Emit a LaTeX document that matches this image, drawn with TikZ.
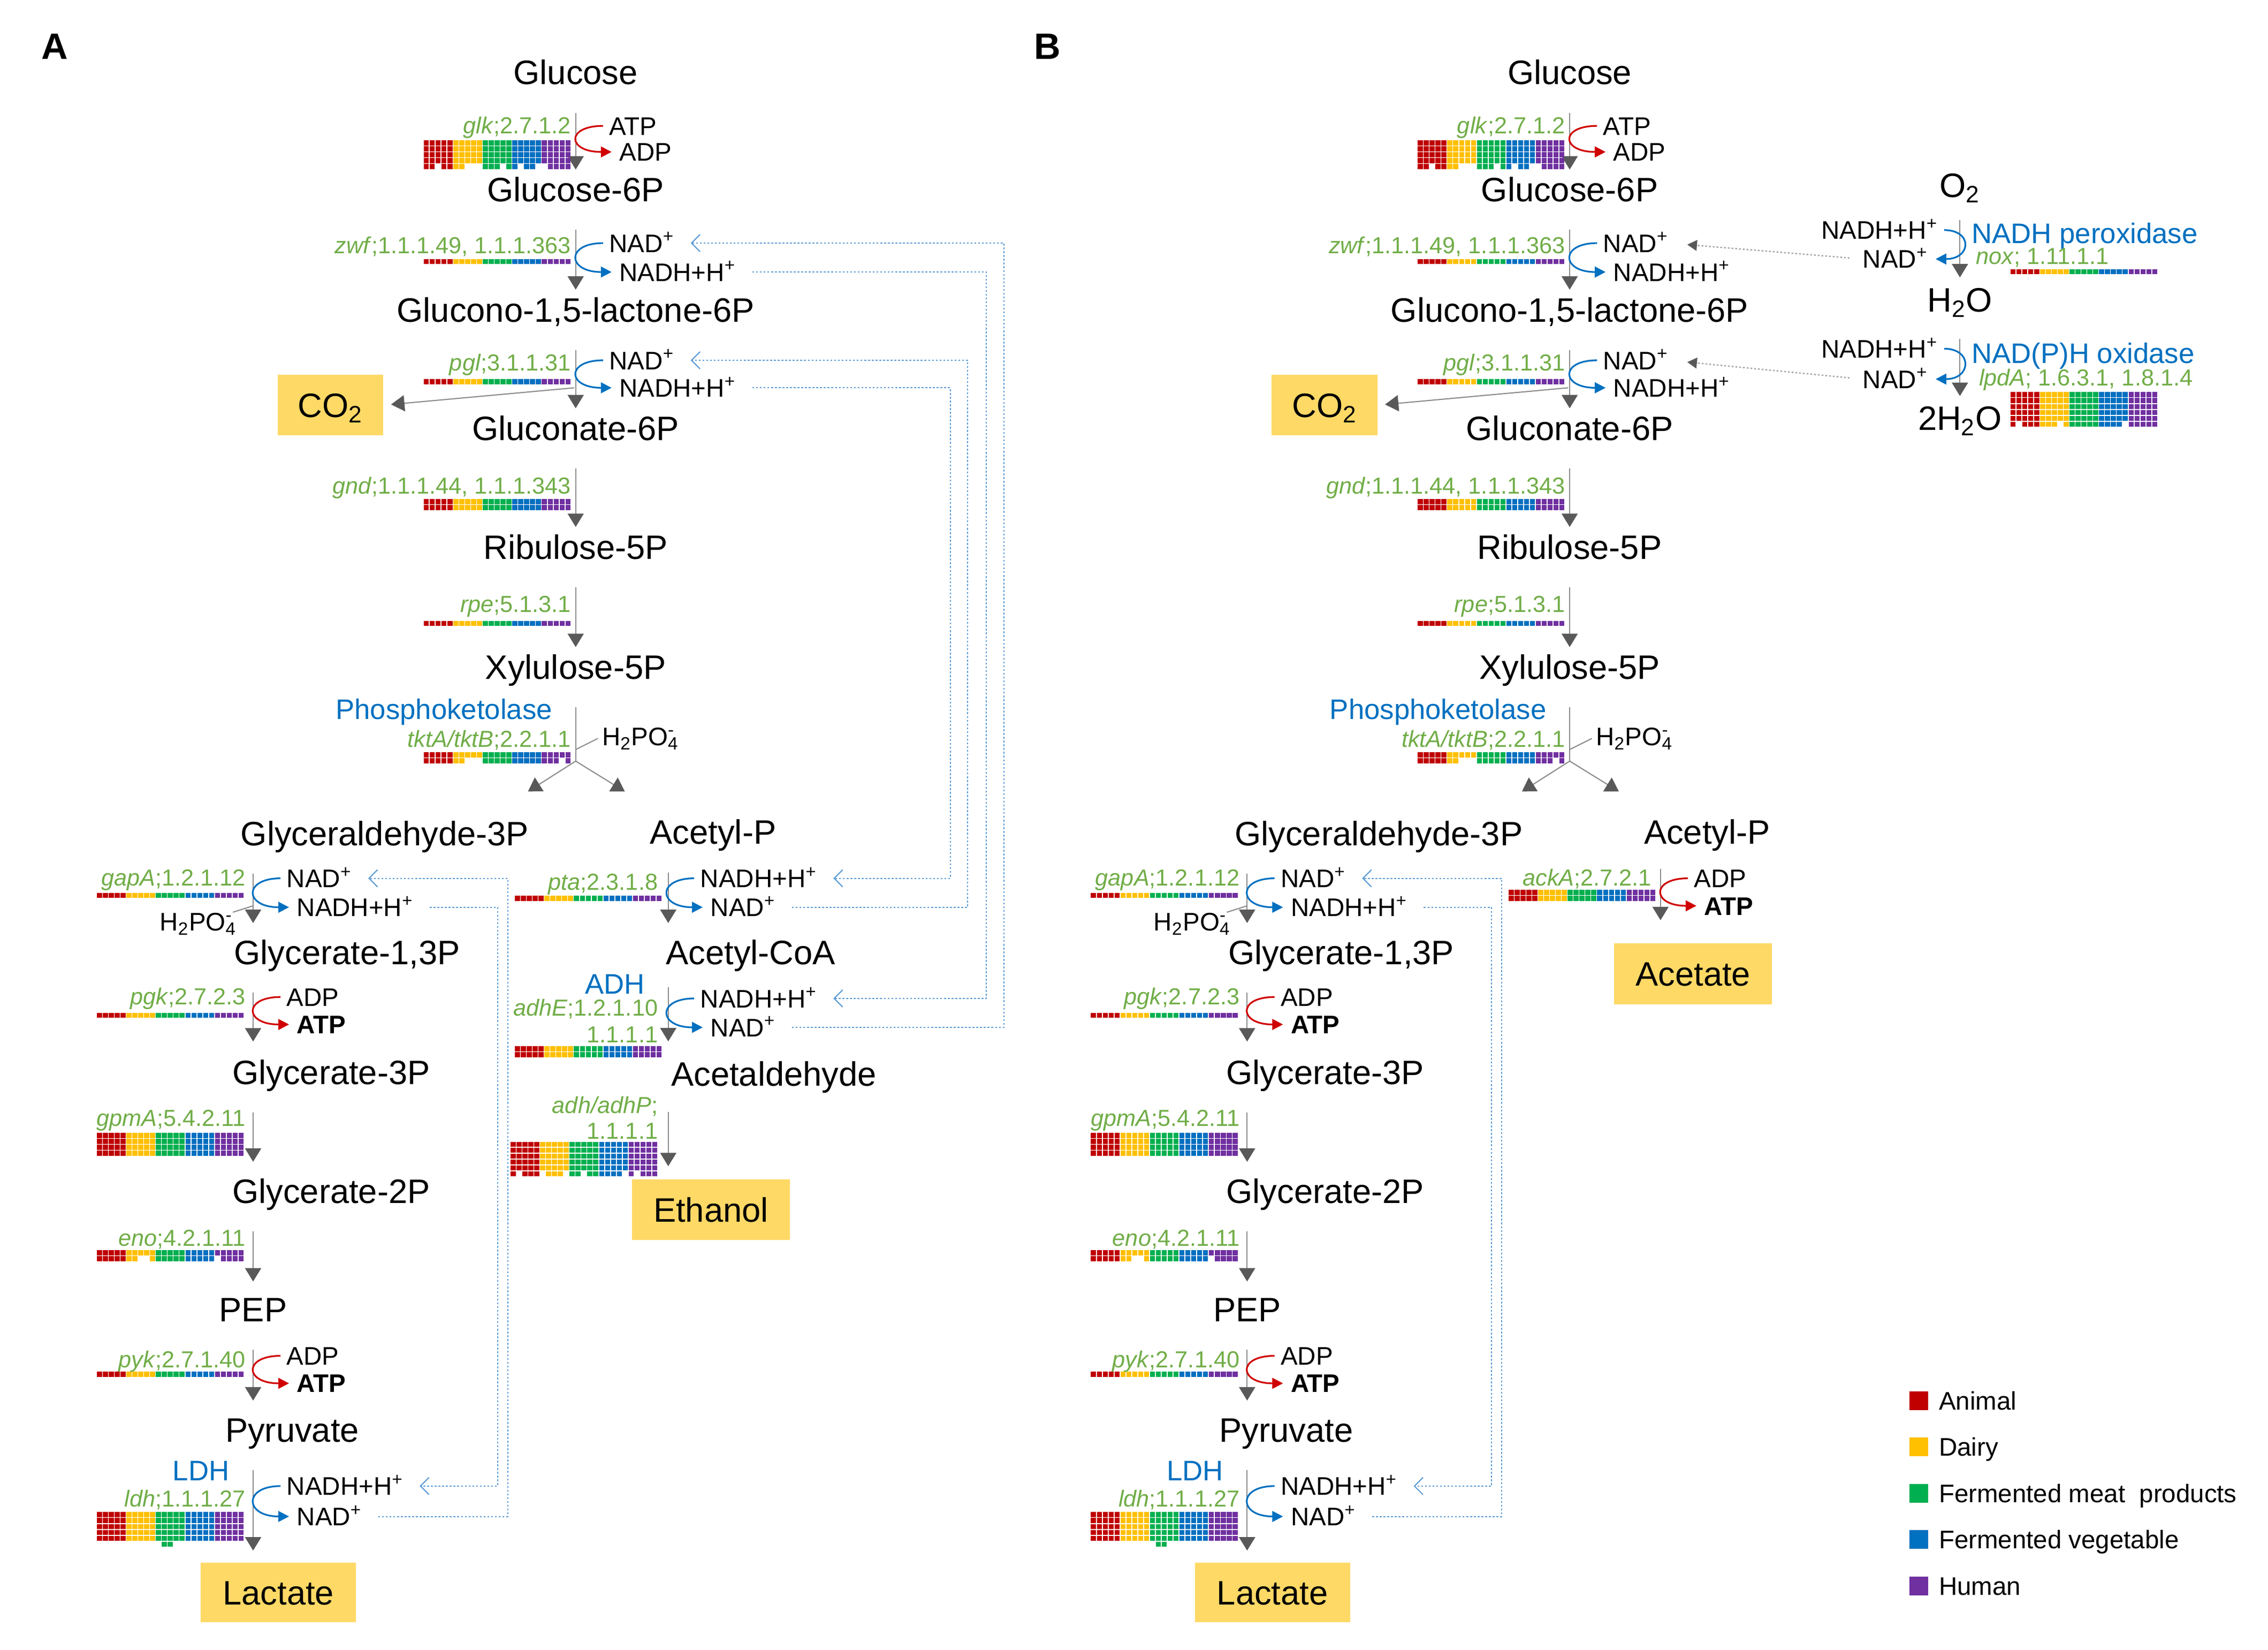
\documentclass[tikz,border=0pt]{standalone}
\usepackage{fontspec}
\setmainfont{Liberation Sans}
\usepackage{tikz}
\usetikzlibrary{arrows.meta,positioning}
\definecolor{hm0}{HTML}{C00000}
\definecolor{hm1}{HTML}{FFC000}
\definecolor{hm2}{HTML}{00B050}
\definecolor{hm3}{HTML}{0070C0}
\definecolor{hm4}{HTML}{7030A0}
\definecolor{genegreen}{HTML}{70AD47}
\definecolor{enzblue}{HTML}{0070C0}
\definecolor{boxfill}{HTML}{FFD966}
\definecolor{rxngray}{HTML}{8C8C8C}
\definecolor{tipgray}{HTML}{595959}
\definecolor{cofred}{HTML}{D00000}
\definecolor{cofblue}{HTML}{0070C0}
\definecolor{dotblue}{HTML}{5B9BD5}

% heat strip: left x, top y, rows per column (25 columns)
\newcommand{\heat}[3]{%
  \foreach \h [count=\c from 0] in {#3} {%
    \pgfmathtruncatemacro{\g}{\c/5}%
    \foreach \r in {1,...,\h}
      \fill[fill=hm\g] ({#1+\c*4.08},{#2+(\r-1)*4.08}) rectangle ++(3.5,3.5);
  }}
% heat strip with the same number of rows in every column
\newcommand{\heatbar}[3]{%
  \foreach \c in {0,...,24} {%
    \pgfmathtruncatemacro{\g}{\c/5}%
    \foreach \r in {1,...,#3}
      \fill[fill=hm\g] ({#1+\c*4.08},{#2+(\r-1)*4.08}) rectangle ++(3.5,3.5);
  }}

% shared part of both panels
\newcommand{\pathway}[1]{%
  \node[met] (glc#1) at (398,50) {Glucose};
  \node[met] (g6p#1) at (398,131) {Glucose-6P};
  \node[met] (glp#1) at (398,214) {Glucono-1,5-lactone-6P};
  \node[met] (gnt#1) at (398,296) {Gluconate-6P};
  \node[met] (ru5#1) at (398,378) {Ribulose-5P};
  \node[met] (xu5#1) at (398,461) {Xylulose-5P};
  \node[met] (gap#1) at (266,576) {Glyceraldehyde-3P};
  \node[met] (acp#1) at (493,575) {Acetyl-P};
  \node[met] (bpg#1) at (240,658) {Glycerate-1,3P};
  \node[met] (pgc#1) at (229,741) {Glycerate-3P};
  \node[met] (pgb#1) at (229,823) {Glycerate-2P};
  \node[met] (pep#1) at (175,905) {PEP};
  \node[met] (pyr#1) at (202,988) {Pyruvate};
  \node[prod, minimum width=2.9cm, minimum height=1.11cm] (lac#1) at (192.5,1100.5) {Lactate};
  \node[prod, minimum width=1.97cm, minimum height=1.13cm] (co2#1) at (228.5,280) {CO\textsubscript{2}};
  \coordinate (axL#1) at (175,0);
  % glucose to xylulose-5P
  \draw[rxn] (glc#1) -- (g6p#1);
  \node[gene] (glk#1) at (395,86.5) {\textit{glk};2.7.1.2};
  \heat{293}{97}{5,5,4,5,5,5,5,4,4,4,5,5,5,4,5,5,4,5,5,4,4,5,5,5,5}
  \node[cof] (glki#1) at (421,87) {ATP};
  \node[cof] (glko#1) at (428,105) {ADP};
  \draw[cofr] (glki#1.west) .. controls +(-30,0) and +(-36,0) .. (glko#1.west);
  \draw[rxn] (g6p#1) -- (glp#1);
  \node[gene] (zwf#1) at (395,169.5) {\textit{zwf};1.1.1.49, 1.1.1.363};
  \heatbar{293}{179}{1}
  \node[cof] (zwfo#1) at (421,168) {NAD\textsuperscript{+}};
  \node[cof] (zwfr#1) at (428,188) {NADH+H\textsuperscript{+}};
  \draw[cofb] (zwfo#1.west) .. controls +(-30,0) and +(-36,0) .. (zwfr#1.west);
  \draw[rxn] (glp#1) -- (gnt#1);
  \node[gene] (pgl#1) at (395,250.5) {\textit{pgl};3.1.1.31};
  \heatbar{293}{262}{1}
  \node[cof] (pglo#1) at (421,249) {NAD\textsuperscript{+}};
  \node[cof] (pglr#1) at (428,268) {NADH+H\textsuperscript{+}};
  \draw[cofb] (pglo#1.west) .. controls +(-30,0) and +(-36,0) .. (pglr#1.west);
  \coordinate (co2s#1) at (397,268);
  \draw[rxn, shorten <=0pt] (co2s#1) -- (co2#1.east);
  \draw[rxn] (gnt#1) -- (ru5#1);
  \node[gene] (gnd#1) at (395,335.5) {\textit{gnd};1.1.1.44, 1.1.1.343};
  \heatbar{293}{345}{2}
  \draw[rxn] (ru5#1) -- (xu5#1);
  \node[gene] (rpe#1) at (395,417.5) {\textit{rpe};5.1.3.1};
  \heatbar{293}{429}{1}
  % phosphoketolase split
  \node[enz] (pkt#1) at (307,490) {Phosphoketolase};
  \node[gene] (tkt#1) at (395,510.5) {\textit{tktA/tktB};2.2.1.1};
  \heat{293}{520}{2,2,2,2,2,2,2,1,1,1,2,2,2,2,2,2,2,2,2,2,2,2,2,1,2}
  \coordinate (pk#1) at (398,526);
  \coordinate (pkp#1) at (398,518);
  \coordinate (pkl#1) at (365,547);
  \coordinate (pkr#1) at (432,547);
  \node[cof] (pia#1) at (416,509) {H\textsubscript{2}PO\rlap{\textsubscript{4}}\textsuperscript{-}};
  \draw[rxnline] (xu5#1) -- (pk#1);
  \draw[thinline, shorten >=0.8mm] (pkp#1) -- (pia#1.west);
  \draw[rxn, shorten <=0pt, shorten >=0pt] (pk#1) -- (pkl#1);
  \draw[rxn, shorten <=0pt, shorten >=0pt] (pk#1) -- (pkr#1);
  % glycolysis down to lactate
  \draw[rxn, shorten >=3.1mm] (gap#1.south -| axL#1) -- (bpg#1.north -| axL#1);
  \node[gene] (gapg#1) at (170,606.5) {\textit{gapA};1.2.1.12};
  \heatbar{67}{617}{1}
  \node[cof] (gapo#1) at (198,607) {NAD\textsuperscript{+}};
  \node[cof] (gapr#1) at (205,627) {NADH+H\textsuperscript{+}};
  \draw[cofb] (gapo#1.west) .. controls +(-30,0) and +(-36,0) .. (gapr#1.west);
  \node[cof, anchor=east] (pib#1) at (161,637) {H\textsubscript{2}PO\rlap{\textsubscript{4}}\textsuperscript{-}};
  \coordinate (gpp#1) at (175,626);
  \draw[thinline] (gpp#1) -- (pib#1.north east);
  \draw[rxn, shorten >=3.4mm] (bpg#1.south -| axL#1) -- (pgc#1.north -| axL#1);
  \node[gene] (pgk#1) at (170,688.5) {\textit{pgk};2.7.2.3};
  \heatbar{67}{700}{1}
  \node[cof] (pgki#1) at (198,689) {ADP};
  \node[cof] (pgko#1) at (205,708) {\textbf{ATP}};
  \draw[cofr] (pgki#1.west) .. controls +(-30,0) and +(-36,0) .. (pgko#1.west);
  \draw[rxn, shorten >=3.1mm] (pgc#1.south -| axL#1) -- (pgb#1.north -| axL#1);
  \node[gene] (gpm#1) at (170,772.5) {\textit{gpmA};5.4.2.11};
  \heatbar{67}{783}{4}
  \draw[rxn, shorten >=2.9mm] (pgb#1.south -| axL#1) -- (pep#1.north -| axL#1);
  \node[gene] (eno#1) at (170,855.5) {\textit{eno};4.2.1.11};
  \heat{67}{864}{2,2,2,2,2,2,2,1,1,2,2,2,2,2,2,2,2,2,2,2,1,2,2,2,2}
  \draw[rxn, shorten >=3.1mm] (pep#1.south -| axL#1) -- (pyr#1.north -| axL#1);
  \node[gene] (pyk#1) at (170,939.5) {\textit{pyk};2.7.1.40};
  \heatbar{67}{948}{1}
  \node[cof] (pyki#1) at (198,937) {ADP};
  \node[cof] (pyko#1) at (205,956) {\textbf{ATP}};
  \draw[cofr] (pyki#1.west) .. controls +(-30,0) and +(-36,0) .. (pyko#1.west);
  \draw[rxn, shorten >=2.2mm] (pyr#1.south -| axL#1) -- (lac#1.north -| axL#1);
  \node[enz] (ldhe#1) at (139,1016) {LDH};
  \node[gene] (ldh#1) at (170,1035.5) {\textit{ldh};1.1.1.27};
  \heat{67}{1045}{5,5,5,5,5,5,5,5,5,5,5,6,6,5,5,5,5,5,5,5,5,5,5,5,5}
  \node[cof] (ldhr#1) at (198,1027) {NADH+H\textsuperscript{+}};
  \node[cof] (ldho#1) at (205,1048) {NAD\textsuperscript{+}};
  \draw[cofb] (ldhr#1.west) .. controls +(-30,0) and +(-36,0) .. (ldho#1.west);
  % NAD recycling between gapA and ldh
  \coordinate (ro1#1) at (351,0);
  \coordinate (ro2#1) at (344,0);
  \draw[recyc] (ldho#1.east) -- (ldho#1.east -| ro1#1) -- (gapo#1.east -| ro1#1) -- (gapo#1.east);
  \draw[recyc] (gapr#1.east) -- (gapr#1.east -| ro2#1) -- (ldhr#1.east -| ro2#1) -- (ldhr#1.east);
}

\begin{document}
\begin{tikzpicture}[x=0.02703cm, y=-0.02703cm,
    met/.style={font=\fontsize{18}{21}\selectfont, inner sep=0pt, text height=12.9pt, text depth=0pt},
    prod/.style={met, fill=boxfill},
    cof/.style={font=\fontsize{13.5}{16}\selectfont, inner sep=0pt, text height=9.7pt, text depth=0pt, anchor=west},
    gene/.style={font=\fontsize{12.3}{14}\selectfont, text=genegreen, inner sep=0pt, text height=8.8pt, text depth=0pt, anchor=east},
    enz/.style={font=\fontsize{15}{17}\selectfont, text=enzblue, inner sep=0pt, text height=10.8pt, text depth=0pt},
    rxn/.style={draw=rxngray, line width=0.6pt, -{Triangle[length=2.5mm,width=3mm,color=tipgray]}, shorten <=5.2mm, shorten >=1.4mm},
    rxnline/.style={draw=rxngray, line width=0.6pt, shorten <=5.2mm},
    thinline/.style={draw=rxngray, line width=0.6pt},
    cofr/.style={draw=cofred, line width=0.9pt, -{Triangle[length=2mm,width=2mm]}, shorten <=1.1mm, shorten >=1.4mm},
    cofb/.style={cofr, draw=cofblue},
    recyc/.style={draw=dotblue, line width=0.6pt, dash pattern=on 1pt off 1pt, -{Straight Barb[length=1.6mm,width=3.2mm]}, shorten <=3mm, shorten >=3mm},
    recycg/.style={draw=gray!70, line width=0.7pt, dash pattern=on 1pt off 1pt, -{Triangle[length=1.8mm,width=2mm,color=tipgray]}, shorten <=2.4mm, shorten >=3.5mm},
    legsq/.style={minimum size=3.5mm, inner sep=0pt},
    panel/.style={font=\fontsize{19.5}{22}\selectfont\bfseries, inner sep=0pt}]

    \useasboundingbox (0,0) rectangle (1568,1140);

    % ---------- panel A ----------
    \node[panel] (pa) at (38,32) {A};
    \pathway{A}

    \coordinate (axR) at (462,0);
    \node[met] (acoa) at (519,658) {Acetyl-CoA};
    \node[met] (acal) at (535,742) {Acetaldehyde};
    \node[prod, minimum width=2.95cm, minimum height=1.13cm] (etoh) at (491.5,836) {Ethanol};

    \draw[rxn, shorten >=3.1mm] (acpA.south -| axR) -- (acoa.north -| axR);
    \node[gene] (pta) at (455,609.5) {\textit{pta};2.3.1.8};
    \heatbar{356}{619}{1}
    \node[cof] (ptar) at (484,607) {NADH+H\textsuperscript{+}};
    \node[cof] (ptao) at (491,627) {NAD\textsuperscript{+}};
    \draw[cofb] (ptar.west) .. controls +(-30,0) and +(-36,0) .. (ptao.west);

    \draw[rxn, shorten <=4.2mm, shorten >=3.7mm] (acoa.south -| axR) -- (acal.north -| axR);
    \node[enz] (adhe) at (425,680) {ADH};
    \node[gene] (adhg) at (455,696.5) {\textit{adhE};1.2.1.10};
    \node[gene] (adhh) at (455,715) {1.1.1.1};
    \heatbar{356}{723}{2}
    \node[cof] (adhr) at (484,690) {NADH+H\textsuperscript{+}};
    \node[cof] (adho) at (491,710) {NAD\textsuperscript{+}};
    \draw[cofb] (adhr.west) .. controls +(-30,0) and +(-36,0) .. (adho.west);

    \draw[rxn, shorten <=4.8mm, shorten >=2.4mm] (acal.south -| axR) -- (etoh.north -| axR);
    \node[gene] (adpg) at (455,763.5) {\textit{adh/adhP};};
    \node[gene] (adph) at (455,781.5) {1.1.1.1};
    \heat{353}{789}{6,5,6,6,6,5,6,6,6,5,6,6,5,6,6,6,6,6,6,5,6,5,6,6,6}

    % NAD recycling on the right of panel A
    \coordinate (ra1) at (694,0);
    \coordinate (ra2) at (682,0);
    \coordinate (ra3) at (669,0);
    \coordinate (ra4) at (657,0);
    \draw[recyc] (adho.east) -- (adho.east -| ra1) -- (zwfoA.east -| ra1) -- (zwfoA.east);
    \draw[recyc] (zwfrA.east) -- (zwfrA.east -| ra2) -- (adhr.east -| ra2) -- (adhr.east);
    \draw[recyc] (ptao.east) -- (ptao.east -| ra3) -- (pgloA.east -| ra3) -- (pgloA.east);
    \draw[recyc] (pglrA.east) -- (pglrA.east -| ra4) -- (ptar.east -| ra4) -- (ptar.east);

    % ---------- panel B ----------
    \node[panel] (pb) at (724,32) {B};
    \begin{scope}[xshift=18.57cm]
        \pathway{B}
    \end{scope}

    \coordinate (axB) at (1148,0);
    \node[prod, minimum width=2.95cm, minimum height=1.13cm] (acet) at (1170.5,673) {Acetate};
    \draw[rxn, shorten <=4.5mm, shorten >=4.3mm] (acpB.south -| axB) -- (acet.north -| axB);
    \node[gene] (ack) at (1142,606.5) {\textit{ackA};2.7.2.1};
    \heatbar{1043}{615}{2}
    \node[cof] (acki) at (1171,607) {ADP};
    \node[cof] (acko) at (1178,626) {\textbf{ATP}};
    \draw[cofr] (acki.west) .. controls +(-30,0) and +(-36,0) .. (acko.west);

    % oxygen side
    \node[met] (oxy) at (1355,128) {O\textsubscript{2}};
    \node[met] (wat) at (1355,207) {H\textsubscript{2}O};
    \node[met] (wat2) at (1355,289) {2H\textsubscript{2}O};
    \draw[rxn, shorten <=4.2mm, shorten >=1.8mm] (oxy) -- (wat);
    \draw[rxn, shorten <=5mm, shorten >=1.8mm] (wat) -- (wat2);

    \node[cof, anchor=east] (noxr) at (1340,159) {NADH+H\textsuperscript{+}};
    \node[cof, anchor=east] (noxo) at (1333,179) {NAD\textsuperscript{+}};
    \draw[cofb] (noxr.east) .. controls +(24,0) and +(30,0) .. (noxo.east);
    \node[enz, anchor=west] (noxe) at (1363,161) {NADH peroxidase};
    \node[gene, anchor=west] (noxg) at (1366,177) {\textit{nox}; 1.11.1.1};
    \heatbar{1390}{186}{1}

    \node[cof, anchor=east] (lpdr) at (1340,241) {NADH+H\textsuperscript{+}};
    \node[cof, anchor=east] (lpdo) at (1333,262) {NAD\textsuperscript{+}};
    \draw[cofb] (lpdr.east) .. controls +(24,0) and +(30,0) .. (lpdo.east);
    \node[enz, anchor=west] (lpde) at (1363,244) {NAD(P)H oxidase};
    \node[gene, anchor=west] (lpdg) at (1368,261) {\textit{lpdA}; 1.6.3.1, 1.8.1.4};
    \heat{1390}{271}{6,5,6,6,6,6,6,6,5,6,6,6,6,6,6,6,6,6,6,5,6,6,6,6,6}

    \draw[recycg] (noxo.west) -- (zwfoB.east);
    \draw[recycg] (lpdo.west) -- (pgloB.east);

    % legend
    \node[legsq, fill=hm0] (sqa) at (1326.5,968) {};
    \node[cof, right=1.9mm of sqa] (lga) {Animal};
    \node[legsq, fill=hm1] (sqb) at (1326.5,1000) {};
    \node[cof, right=1.9mm of sqb] (lgb) {Dairy};
    \node[legsq, fill=hm2] (sqc) at (1326.5,1032) {};
    \node[cof, right=1.9mm of sqc] (lgc) {Fermented meat\ \ products};
    \node[legsq, fill=hm3] (sqd) at (1326.5,1064) {};
    \node[cof, right=1.9mm of sqd] (lgd) {Fermented vegetable};
    \node[legsq, fill=hm4] (sqe) at (1326.5,1096) {};
    \node[cof, right=1.9mm of sqe] (lge) {Human};
\end{tikzpicture}
\end{document}
